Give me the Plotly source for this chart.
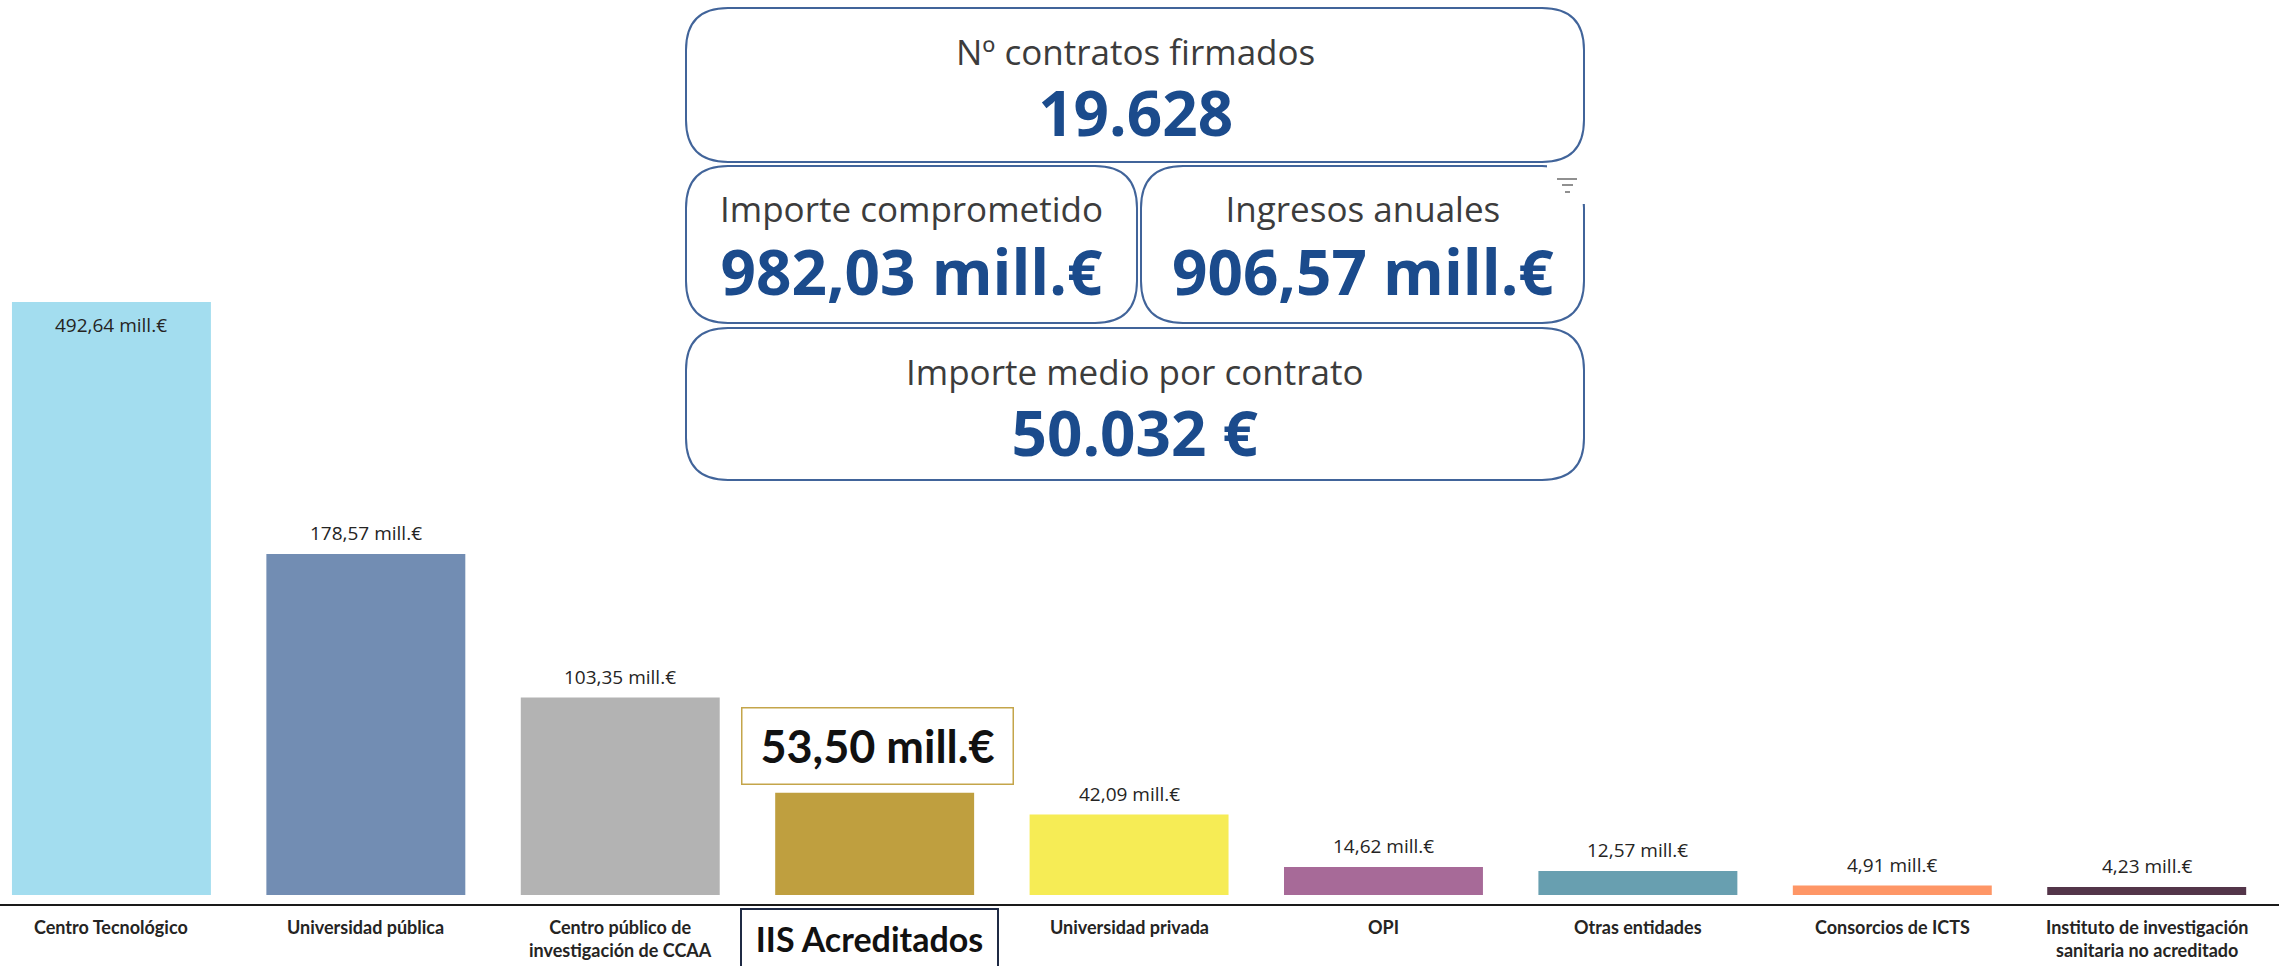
import plotly.graph_objects as go

# ---- data -------------------------------------------------------------
categories = [
    "Centro Tecnológico",
    "Universidad pública",
    "Centro público de<br>investigación de CCAA",
    "IIS Acreditados",
    "Universidad privada",
    "OPI",
    "Otras entidades",
    "Consorcios de ICTS",
    "Instituto de investigación<br>sanitaria no acreditado",
]
values = [492.64, 178.57, 103.35, 53.50, 42.09, 14.62, 12.57, 4.91, 4.23]
bar_colors = [
    "#a3ddef", "#728db3", "#b3b3b3", "#bf9f3f", "#f6ec55",
    "#a76a98", "#689fb0", "#fe9666", "#533549",
]
highlight = "IIS Acreditados"

kpi_titles = [
    "Nº contratos firmados",
    "Importe comprometido",
    "Ingresos anuales",
    "Importe medio por contrato",
]
kpi_values = ["19.628", "982,03 mill.€", "906,57 mill.€", "50.032 €"]

# ---- canvas geometry (pixels) ------------------------------------------
W, H = 2279, 966
PLOT_TOP, PLOT_BOTTOM = 302, 903.5
Y_RANGE = [-4.45, 310.5]
X_RANGE = [-0.438, 8.52]

TEXT = "#252423"
KPI_BORDER = "#41649a"
KPI_TITLE = "#3c3c3c"
KPI_VALUE = "#1b4b8c"
KPI_TITLE_SIZE = 35


def px(x):
    return x / W


def py(y):
    return 1 - y / H


def rounded_rect(x0, y0, x1, y1, r):
    pts = [
        ("M", [(x0 + r, y0)]),
        ("L", [(x1 - r, y0)]),
        ("Q", [(x1, y0), (x1, y0 + r)]),
        ("L", [(x1, y1 - r)]),
        ("Q", [(x1, y1), (x1 - r, y1)]),
        ("L", [(x0 + r, y1)]),
        ("Q", [(x0, y1), (x0, y1 - r)]),
        ("L", [(x0, y0 + r)]),
        ("Q", [(x0, y0), (x0 + r, y0)]),
    ]
    s = ""
    for cmd, coords in pts:
        s += cmd + " " + " ".join(f"{px(a):.5f},{py(b):.5f}" for a, b in coords) + " "
    return s + "Z"


def fmt_mill(v):
    return f"{v:.2f}".replace(".", ",") + " mill.€"


fig = go.Figure(
    go.Bar(
        x=categories,
        y=values,
        marker=dict(color=bar_colors, line=dict(width=0)),
        hoverinfo="skip",
    )
)

annotations = []
shapes = []

# value labels over the bars
for cat, v in zip(categories, values):
    if v > Y_RANGE[1]:
        annotations.append(dict(
            x=cat, y=Y_RANGE[1], xref="x", yref="y", text=fmt_mill(v),
            showarrow=False, yanchor="middle", yshift=-23,
            font=dict(family="Open Sans", size=19, color=TEXT),
        ))
    elif cat == highlight:
        annotations.append(dict(
            x=cat, y=v, xref="x", yref="y", text=fmt_mill(v),
            showarrow=False, yanchor="middle", yshift=47, xshift=3,
            width=270, height=75, borderpad=0,
            bordercolor="#c4a54a", borderwidth=1.5, bgcolor="white",
            font=dict(family="Lato", size=45, color="#111111", weight="bold"),
        ))
    else:
        annotations.append(dict(
            x=cat, y=v, xref="x", yref="y", text=fmt_mill(v),
            showarrow=False, yanchor="middle", yshift=21,
            font=dict(family="Open Sans", size=19, color=TEXT),
        ))

# category labels under the axis
for cat in categories:
    if cat == highlight:
        annotations.append(dict(
            x=cat, y=py(938), xref="x", yref="paper", text=cat,
            showarrow=False, yanchor="middle", xshift=-5,
            width=255, height=56, borderpad=0,
            bordercolor="#1f2a44", borderwidth=2, bgcolor="white",
            font=dict(family="Lato", size=34, color="#111111", weight="bold"),
        ))
    else:
        annotations.append(dict(
            x=cat, y=py(914), xref="x", yref="paper", text=cat,
            showarrow=False, yanchor="top", align="center",
            font=dict(family="Lato", size=18, color=TEXT, weight="bold"),
        ))

# KPI cards: (box, title baseline, gap between baselines, value size)
cards = [
    (686, 8, 1584, 162),
    (686, 166, 1137, 323),
    (1141, 166, 1584, 323),
    (686, 328, 1584, 480),
]
title_base = [65.5, 222.5, 222.5, 385.5]
base_gap = [70.5, 72.6, 72.6, 70.5]
value_sizes = [62, 62, 62, 62]
for (x0, y0, x1, y1), t, v, b1, gap, vs in zip(
        cards, kpi_titles, kpi_values, title_base, base_gap, value_sizes):
    shapes.append(dict(
        type="path", xref="paper", yref="paper",
        path=rounded_rect(x0, y0, x1, y1, 42),
        line=dict(color=KPI_BORDER, width=2), fillcolor="white", layer="above",
    ))
    cx = (x0 + x1) / 2
    # title and value share one text block; line pitch = 1.3 x base size
    base_size = gap / 1.3
    center = b1 + (gap + 0.293 * vs - 1.069 * KPI_TITLE_SIZE) / 2
    text = (
        f'<span style="font-size:{KPI_TITLE_SIZE}px;color:{KPI_TITLE}">{t}</span>'
        f'<br><span style="font-size:{vs}px;color:{KPI_VALUE}"><b>{v}</b></span>'
    )
    annotations.append(dict(
        x=px(cx), y=py(center), xref="paper", yref="paper", text=text,
        showarrow=False, xanchor="center", yanchor="middle", align="center",
        font=dict(family="Open Sans", size=base_size, color=KPI_TITLE),
    ))

# header strip of the third card with its filter glyph
shapes.append(dict(
    type="rect", xref="paper", yref="paper",
    x0=px(1547), x1=px(1592), y0=py(165), y1=py(204),
    line=dict(width=0), fillcolor="white", layer="above",
))
for x0, x1, yy in [(1557, 1577, 179), (1562, 1573, 185), (1565, 1570, 192)]:
    shapes.append(dict(
        type="line", xref="paper", yref="paper",
        x0=px(x0), x1=px(x1), y0=py(yy), y1=py(yy),
        line=dict(color="#6b6b6b", width=1.5), layer="above",
    ))

fig.update_layout(
    width=W, height=H,
    margin=dict(l=0, r=0, t=0, b=0),
    paper_bgcolor="white", plot_bgcolor="white",
    bargap=0.218,
    showlegend=False,
    xaxis=dict(
        range=X_RANGE, domain=[0, 1], showticklabels=False, ticks="",
        showgrid=False, zeroline=False, showline=True,
        linecolor="#1a1a1a", linewidth=2,
    ),
    yaxis=dict(
        range=Y_RANGE, domain=[py(PLOT_BOTTOM), py(PLOT_TOP)],
        visible=False, showgrid=False, zeroline=False,
    ),
    annotations=annotations,
    shapes=shapes,
)

fig.write_html("out.html", config={"displayModeBar": False})
